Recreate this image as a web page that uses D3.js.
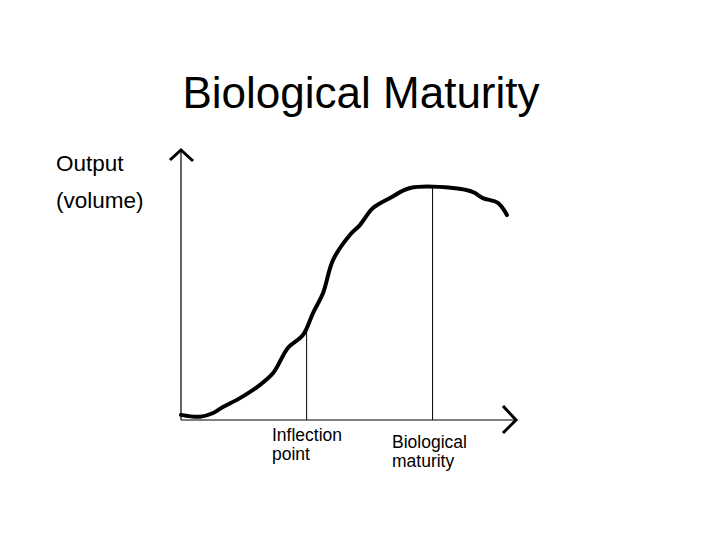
<!DOCTYPE html>
<html>
<head>
<meta charset="utf-8">
<script src="https://cdn.jsdelivr.net/npm/d3@7"></script>
<style>
  body { margin: 0; background: #fff; }
  text { font-family: "Liberation Sans", Arial, sans-serif; fill: #000; }
</style>
</head>
<body>
<div id="chart"></div>
<script>
// growth curve (x: time 0-100, y: output 0-100)
const curveX = [0, 5.7, 9.6, 12.5, 17.6, 22.7, 27.5, 31.9, 36.4, 39.4, 42.4, 45.4, 50.4, 53.4, 57.3, 62.4, 68.4, 81.2, 87.2, 90.1, 94.6, 97.3];
const curveY = [1.9, 1.2, 2.6, 4.8, 8.1, 12.2, 17.4, 26.7, 31.5, 39.6, 47, 59.3, 68.5, 72.2, 78.5, 82.2, 85.9, 85.9, 84.4, 82.2, 80.4, 75.9];

// marker lines
const markerX = [37.5, 75.1];
const markerY = [34.4, 85.9];
const markerLabels = [["Inflection", "point"], ["Biological", "maturity"]];

const titleText = "Biological Maturity";
const yLabelLines = ["Output", "(volume)"];

const width = 720, height = 540;

const svg = d3.select("#chart")
              .append("svg")
              .attr("width", width)
              .attr("height", height);

const x = d3.scaleLinear().domain([0, 100]).range([181, 516]);
const y = d3.scaleLinear().domain([0, 100]).range([420, 150]);

svg.append("text")
   .attr("x", 361)
   .attr("y", 108)
   .attr("text-anchor", "middle")
   .attr("font-size", 44)
   .text(titleText);

svg.selectAll(".ylabel")
   .data(yLabelLines)
   .join("text")
   .attr("class", "ylabel")
   .attr("x", 56)
   .attr("y", (d, i) => 171 + i * 37)
   .attr("font-size", 22.5)
   .text(d => d);

// axes
const axes = svg.append("g").attr("stroke", "#000").attr("fill", "none");
axes.append("line")
    .attr("x1", x(0)).attr("y1", y(0))
    .attr("x2", x(0)).attr("y2", y(100))
    .attr("stroke-width", 1.2);
axes.append("line")
    .attr("x1", x(0)).attr("y1", y(0))
    .attr("x2", x(100)).attr("y2", y(0))
    .attr("stroke-width", 1.2);

// arrow heads
axes.append("path")
    .attr("d", `M${x(0) - 11},${y(100) + 10} L${x(0)},${y(100)} L${x(0) + 12},${y(100) + 11}`)
    .attr("stroke-width", 3);
axes.append("path")
    .attr("d", `M${x(100) - 13},${y(0) - 14} L${x(100)},${y(0)} L${x(100) - 13},${y(0) + 13}`)
    .attr("stroke-width", 3);

// vertical marker lines
svg.selectAll(".marker")
   .data(markerX)
   .join("line")
   .attr("class", "marker")
   .attr("x1", d => x(d)).attr("x2", d => x(d))
   .attr("y1", y(0))
   .attr("y2", (d, i) => y(markerY[i]))
   .attr("stroke", "#000")
   .attr("stroke-width", 1);

// growth curve
const line = d3.line()
               .x(d => x(d[0]))
               .y(d => y(d[1]))
               .curve(d3.curveCatmullRom);

svg.append("path")
   .datum(d3.zip(curveX, curveY))
   .attr("d", line)
   .attr("fill", "none")
   .attr("stroke", "#000")
   .attr("stroke-width", 4)
   .attr("stroke-linejoin", "round")
   .attr("stroke-linecap", "round");

// marker labels
const labelPos = [[272, 441], [392, 448]];
markerLabels.forEach((lines, i) => {
    svg.append("text")
       .attr("x", labelPos[i][0])
       .attr("y", labelPos[i][1])
       .attr("font-size", 17.5)
       .selectAll("tspan")
       .data(lines)
       .join("tspan")
       .attr("x", labelPos[i][0])
       .attr("dy", (d, j) => j === 0 ? 0 : 19)
       .text(d => d);
});
</script>
</body>
</html>
